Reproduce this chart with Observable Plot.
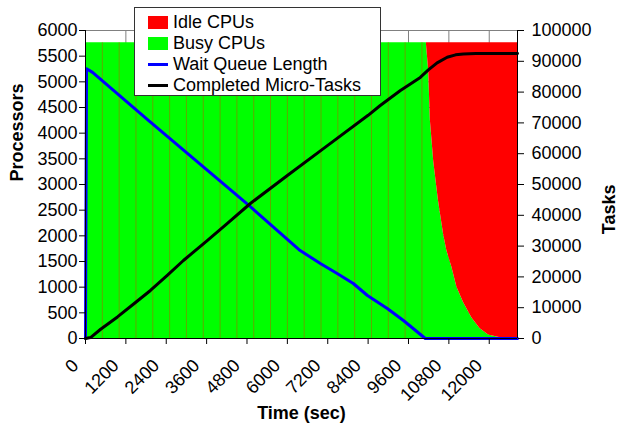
<!DOCTYPE html>
<html><head><meta charset="utf-8">
<script src="https://cdn.jsdelivr.net/npm/d3@7"></script>
<script src="https://cdn.jsdelivr.net/npm/@observablehq/plot@0.6"></script>
<style>
html,body{margin:0;padding:0;background:#fff;}
#wrap{position:relative;width:618px;height:430px;font-family:"Liberation Sans",Arial,sans-serif;}
#legend{position:absolute;left:134px;top:7px;width:247px;height:89px;border:1px solid #333;background:#fff;box-sizing:border-box;}
.row{position:absolute;left:13px;height:21px;display:flex;align-items:center;font-size:18px;color:#000;white-space:nowrap;}
.sw{width:20px;margin-right:5px;}
</style>
</head><body>
<div id="wrap"><div id="legend"></div></div>
<script>
// ---- data ----
const xDomain = [0, 12840];
const xTicks = [0, 1200, 2400, 3600, 4800, 6000, 7200, 8400, 9600, 10800, 12000];
const procTicks = [0, 500, 1000, 1500, 2000, 2500, 3000, 3500, 4000, 4500, 5000, 5500, 6000];
const taskTicks = [0, 10000, 20000, 30000, 40000, 50000, 60000, 70000, 80000, 90000, 100000];
const procMax = 6000, taskMax = 100000;

const cpuTime = [0, 30, 10130, 10200, 10250, 10350, 10490, 10640, 10740, 10890, 11040, 11235, 11485, 11730, 11980, 12300, 12840];
const busyCPUs = [0, 5760, 5760, 5220, 4250, 3450, 2690, 2040, 1710, 1390, 1000, 700, 400, 190, 70, 20, 0];
const idleCPUs = [5760, 0, 0, 540, 1510, 2310, 3070, 3720, 4050, 4370, 4760, 5060, 5360, 5570, 5690, 5740, 5760];

const spikeTimes = [500, 1000, 1500, 2000, 2500, 3000, 3500, 4000, 4500, 5000, 5500, 6000, 6500, 7000, 7500, 8000, 8500, 9000, 9500, 10000];
const spikeTop = 5760;

const queueTime = [0, 30, 210, 1870, 3600, 4900, 6380, 6980, 7480, 7960, 8380, 8970, 9450, 10100, 12840];
const queueLen = [0, 87600, 86400, 70800, 54800, 42800, 28570, 24350, 21100, 17860, 13960, 9740, 5840, 0, 0];

const doneTime = [0, 150, 450, 950, 1430, 1930, 2430, 2910, 3600, 4200, 4900, 6000, 7200, 8400, 8760, 9360, 9950, 10190, 10450, 10750, 11000, 11230, 11600, 12840];
const doneTasks = [0, 300, 3000, 7000, 11200, 15590, 20460, 25330, 31630, 37240, 43830, 52930, 62700, 72470, 75660, 80530, 84750, 87200, 89500, 91300, 92100, 92400, 92500, 92550];

const legendNames = ["Idle CPUs", "Busy CPUs", "Wait Queue Length", "Completed Micro-Tasks"];
const legendColors = ["#ff0000", "#00ff00", "#0000ff", "#000000"];
const legendKinds = ["rect", "rect", "line", "line"];
const titles = {x: "Time (sec)", yLeft: "Processors", yRight: "Tasks"};

// ---- tables ----
const cpu = cpuTime.map((t, i) => ({t, busy: busyCPUs[i], idle: idleCPUs[i]}));
const queue = queueTime.map((t, i) => ({t, v: queueLen[i]}));
const done = doneTime.map((t, i) => ({t, v: doneTasks[i]}));
const k = procMax / taskMax;
const fmt = d3.format("d");

const chart = Plot.plot({
  width: 618, height: 430,
  marginLeft: 85, marginRight: 101, marginTop: 30, marginBottom: 92,
  style: {fontFamily: "'Liberation Sans', Arial, sans-serif", fontSize: "18px", color: "#000", background: "#fff", overflow: "visible"},
  x: {domain: xDomain},
  y: {domain: [0, procMax]},
  marks: [
    Plot.gridX(xTicks, {stroke: "#808080", strokeOpacity: 1}),
    Plot.gridY(procTicks, {stroke: "#808080", strokeOpacity: 1}),
    Plot.areaY(cpu, {x: "t", y1: 0, y2: "busy", fill: "#00ff00"}),
    Plot.areaY(cpu, {x: "t", y1: "busy", y2: d => d.busy + d.idle, fill: "#ff0000"}),
    Plot.ruleX(spikeTimes, {x: d => d, y1: 0, y2: spikeTop, stroke: "#a07000", strokeOpacity: 0.6, strokeWidth: 1}),
    Plot.lineY(queue, {x: "t", y: d => d.v * k, stroke: "#0000ff", strokeWidth: 3}),
    Plot.lineY(done, {x: "t", y: d => d.v * k, stroke: "#000000", strokeWidth: 3}),
    Plot.ruleX([xDomain[0]], {stroke: "#000", strokeWidth: 1}),
    Plot.ruleX([xDomain[1]], {stroke: "#000", strokeWidth: 1}),
    Plot.ruleY([0], {stroke: "#000", strokeWidth: 1}),
    Plot.axisY(procTicks, {anchor: "left", tickSize: 6, tickPadding: 2, tickFormat: fmt, label: null}),
    Plot.axisY(taskTicks.map(v => v * k), {anchor: "right", tickSize: 6, tickPadding: 8, tickFormat: (d) => fmt(Math.round(d / k)), label: null}),
    Plot.axisX(xTicks, {anchor: "bottom", tickSize: 6, tickFormat: () => "", label: null}),
    Plot.text(xTicks, {x: d => d, frameAnchor: "bottom", text: d => fmt(d), rotate: -45, textAnchor: "end", lineAnchor: "middle", dx: -10, dy: 24, fontSize: 18}),
    Plot.text([titles.yLeft], {frameAnchor: "left", dx: -68, dy: -3, rotate: -90, fontWeight: "bold", fontSize: 18}),
    Plot.text([titles.yRight], {frameAnchor: "right", dx: 92, rotate: -90, fontWeight: "bold", fontSize: 18}),
    Plot.text([titles.x], {frameAnchor: "bottom", dy: 80, fontWeight: "bold", fontSize: 18})
  ]
});
const wrap = document.getElementById("wrap");
wrap.insertBefore(chart, wrap.firstChild);

const legend = document.getElementById("legend");
legendNames.forEach((name, i) => {
  const row = document.createElement("div");
  row.className = "row";
  row.style.top = (4 + i * 21) + "px";
  const sw = document.createElement("div");
  sw.className = "sw";
  if (legendKinds[i] === "rect") { sw.style.height = "13px"; sw.style.background = legendColors[i]; }
  else { sw.style.height = "3px"; sw.style.background = legendColors[i]; }
  row.appendChild(sw);
  const tx = document.createElement("span");
  tx.textContent = name;
  row.appendChild(tx);
  legend.appendChild(row);
});
</script>
</body></html>
